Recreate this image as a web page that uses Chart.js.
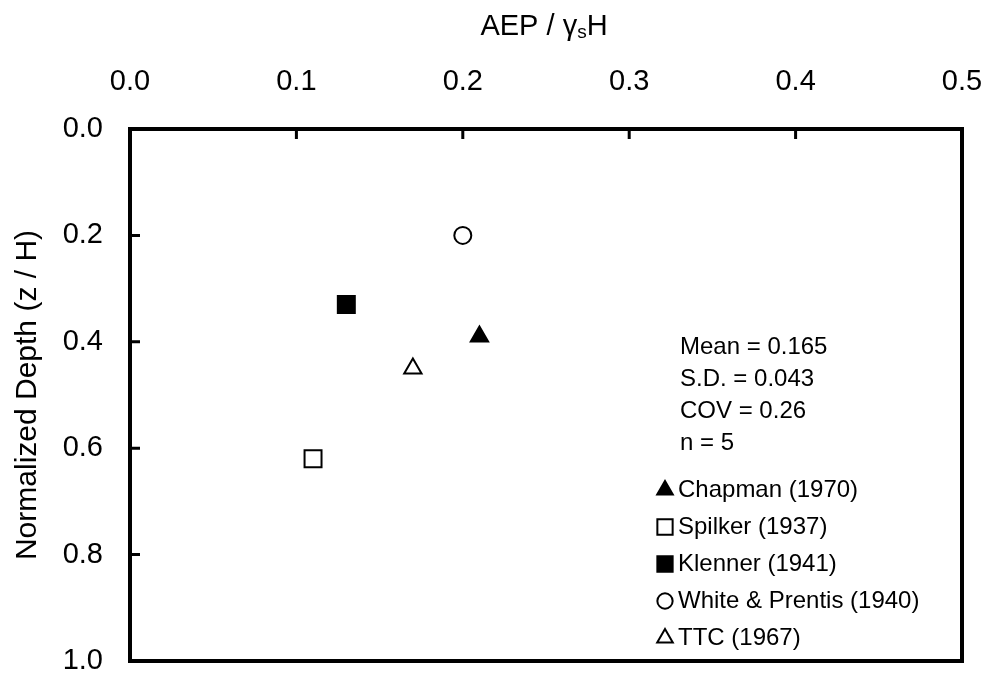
<!DOCTYPE html>
<html>
<head>
<meta charset="utf-8">
<script src="https://cdn.jsdelivr.net/npm/chart.js@4.4.1/dist/chart.umd.min.js"></script>
<style>
  html, body { margin: 0; padding: 0; background: #fff; }
  #wrap { width: 991px; height: 679px; }
</style>
</head>
<body>
<div id="wrap"><canvas id="chart"></canvas></div>
<script>
// data
const seriesNames = ['Chapman (1970)', 'Spilker (1937)', 'Klenner (1941)', 'White & Prentis (1940)', 'TTC (1967)'];
const aepValues   = [0.21, 0.11, 0.13, 0.20, 0.17];   // AEP / gamma_s H
const depthValues = [0.39, 0.62, 0.33, 0.20, 0.45];   // z / H
const xTickValues = [0.0, 0.1, 0.2, 0.3, 0.4, 0.5];
const yTickValues = [0.0, 0.2, 0.4, 0.6, 0.8, 1.0];
const statLines   = ['Mean = 0.165', 'S.D. = 0.043', 'COV = 0.26', 'n = 5'];

const FONT = "'Liberation Sans', Arial, sans-serif";

// marker look per series (same order as seriesNames)
const MARKERS = [
  { style: 'triangle', radius: 10,  fill: '#000' },
  { style: 'rect',     radius: 12,  fill: '#fff' },
  { style: 'rect',     radius: 12,  fill: '#000' },
  { style: 'circle',   radius: 8.5, fill: '#fff' },
  { style: 'triangle', radius: 10,  fill: '#fff' },
];

const datasets = seriesNames.map((name, i) => ({
  label: name,
  data: [{ x: aepValues[i], y: depthValues[i] }],
  pointStyle: MARKERS[i].style,
  pointRadius: MARKERS[i].radius,
  pointHoverRadius: MARKERS[i].radius,
  backgroundColor: MARKERS[i].fill,
  borderColor: '#000',
  pointBorderWidth: 2,
  showLine: false,
}));

// labels may hang past the plot edges, like the original
function noEdgePadding(s) {
  s.paddingLeft = 0; s.paddingRight = 0; s.paddingTop = 0; s.paddingBottom = 0;
}

// frame, inward ticks, top title, legend and stats box
const decorations = {
  id: 'decorations',
  afterDraw(chart) {
    const { ctx, chartArea: a, scales } = chart;
    ctx.save();

    // inward tick marks
    ctx.strokeStyle = '#000';
    ctx.lineWidth = 3;
    ctx.beginPath();
    xTickValues.forEach(v => {
      const px = scales.x.getPixelForValue(v);
      ctx.moveTo(px, a.top); ctx.lineTo(px, a.top + 10);
    });
    yTickValues.forEach(v => {
      const py = scales.y.getPixelForValue(v);
      ctx.moveTo(a.left, py); ctx.lineTo(a.left + 10, py);
    });
    ctx.stroke();

    // plot frame
    ctx.lineWidth = 4;
    ctx.strokeRect(a.left, a.top, a.right - a.left, a.bottom - a.top);

    // x axis title with subscript: AEP / γsH
    ctx.fillStyle = '#000';
    ctx.textBaseline = 'alphabetic';
    ctx.textAlign = 'left';
    const big = `29px ${FONT}`, small = `19px ${FONT}`;
    const parts = [['AEP / ', big, 0], ['\u03b3', big, 0], ['s', small, 3], ['H', big, 0]];
    let total = 0;
    parts.forEach(p => { ctx.font = p[1]; total += ctx.measureText(p[0]).width; });
    let tx = 544 - total / 2;
    const base = 35;
    parts.forEach(p => {
      ctx.font = p[1];
      ctx.fillText(p[0], tx, base + p[2]);
      tx += ctx.measureText(p[0]).width;
    });

    // stats text
    ctx.font = `24px ${FONT}`;
    ctx.textBaseline = 'middle';
    statLines.forEach((s, i) => ctx.fillText(s, 680, 347 + i * 32));

    // legend
    chart.data.datasets.forEach((ds, i) => {
      const y = 490 + i * 37;
      ctx.fillStyle = ds.backgroundColor;
      ctx.strokeStyle = '#000';
      ctx.lineWidth = 2;
      Chart.helpers.drawPoint(ctx, { pointStyle: ds.pointStyle, radius: ds.pointRadius * 0.9, rotation: 0, borderWidth: 2 }, 665, y);
      ctx.fillStyle = '#000';
      ctx.font = `24px ${FONT}`;
      ctx.fillText(ds.label, 678, y);
    });

    ctx.restore();
  }
};

new Chart(document.getElementById('chart'), {
  type: 'scatter',
  data: { datasets },
  plugins: [decorations],
  options: {
    responsive: true,
    maintainAspectRatio: false,
    animation: false,
    layout: { padding: { left: 0, top: 0, right: 29, bottom: 18 } },
    plugins: {
      legend: { display: false },
      tooltip: { enabled: false },
    },
    scales: {
      x: {
        type: 'linear',
        position: 'top',
        min: 0,
        max: 0.5,
        afterBuildTicks: s => { s.ticks = xTickValues.map(v => ({ value: v })); },
        afterFit: s => { s.height = 129; noEdgePadding(s); },
        ticks: {
          color: '#000',
          font: { family: FONT, size: 29 },
          padding: 30,
          maxRotation: 0,
          callback: v => v.toFixed(1),
        },
        grid: { drawOnChartArea: false, drawTicks: false },
        border: { display: false },
      },
      y: {
        type: 'linear',
        reverse: true,
        min: 0,
        max: 1,
        afterBuildTicks: s => { s.ticks = yTickValues.map(v => ({ value: v })); },
        afterFit: s => { s.width = 130; noEdgePadding(s); },
        ticks: {
          color: '#000',
          font: { family: FONT, size: 29 },
          padding: 27,
          callback: v => v.toFixed(1),
        },
        title: {
          display: true,
          text: 'Normalized Depth (z / H)',
          color: '#000',
          font: { family: FONT, size: 30 },
          padding: { top: 10, bottom: 0 },
        },
        grid: { drawOnChartArea: false, drawTicks: false },
        border: { display: false },
      },
    },
  },
});
</script>
</body>
</html>
